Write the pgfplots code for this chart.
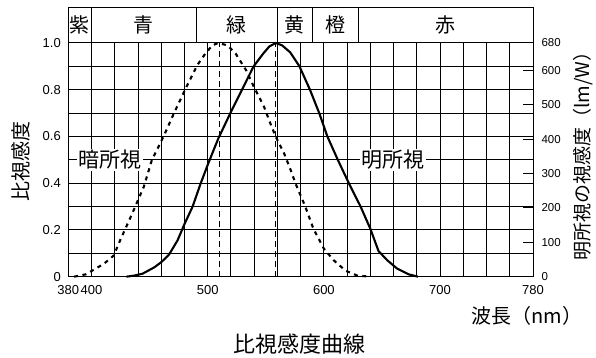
\documentclass[border=0pt]{standalone}
\usepackage{fontspec}
\setmainfont{Liberation Sans}
\newfontfamily\jp{Noto Sans CJK JP}
\usepackage{pgfplots}
\pgfplotsset{compat=1.18}
\begin{document}
\begin{tikzpicture}
\useasboundingbox (-68.3pt,-81.3pt) rectangle (527.7pt,276.7pt);
\begin{axis}[
  at={(0pt,0pt)}, anchor=south west,
  width=464.7pt, height=233.7pt, scale only axis,
  xmin=380, xmax=780, ymin=0, ymax=1,
  xtick={380,400,420,440,460,480,500,520,540,560,580,600,620,640,660,680,700,720,740,760,780},
  xticklabels={380,400,,,,,500,,,,,600,,,,,700,,,,780},
  ytick={0,0.1,0.2,0.3,0.4,0.5,0.6,0.7,0.8,0.9,1},
  yticklabels={0,,0.2,,0.4,,0.6,,0.8,,1.0},
  grid=major, major grid style={black, line width=1pt},
  axis line style={black, line width=1pt},
  major tick length=0pt,
  tick label style={font=\fontsize{13}{13}\selectfont},
  xticklabel style={yshift=-5pt},
  yticklabel style={xshift=-4pt},
  clip=false,
]
% photopic (solid)
\addplot[black, line width=2.1pt] coordinates {
(430,0) (437,0.005) (444,0.013) (454,0.04) (460,0.062) (466.5,0.093) (474,0.155)
(480,0.225) (487,0.30) (494,0.40) (500.5,0.485) (509,0.59) (519.5,0.70)
(529.5,0.80) (539.5,0.90) (548,0.956) (553,0.985) (558.5,1.0) (564,0.99)
(571,0.96) (579,0.90) (588,0.80) (596,0.70) (603,0.60) (612,0.50)
(621.5,0.40) (631.6,0.30) (640,0.205) (647,0.11) (654.6,0.07) (663,0.035)
(673,0.01) (681,0)
};
% scotopic (dashed)
\addplot[black, line width=2.1pt, dash pattern=on 4pt off 4.5pt] coordinates {
(385,0) (395,0.01) (402,0.03) (410.6,0.055) (419,0.09) (425,0.16) (435,0.27)
(445,0.385) (452,0.5) (462,0.6) (471,0.70) (481,0.805) (491,0.905) (498,0.955)
(504,0.99) (509,1.0) (517,0.99) (524,0.955) (533,0.884) (540,0.81) (548.5,0.727)
(554,0.655) (558.6,0.598) (565.8,0.527) (571.5,0.455) (575.5,0.4) (584,0.3)
(591,0.205) (600,0.12) (608.5,0.07) (618.6,0.026) (628.6,0.005) (640,0)
};
% peak lines
\addplot[black, line width=1pt, dash pattern=on 6pt off 4pt] coordinates {(510,0) (510,1)};
\addplot[black, line width=1pt, dash pattern=on 6pt off 4pt] coordinates {(558.5,0) (558.5,1)};
% colour band
\draw[line width=1pt] (axis cs:380,1) rectangle (axis cs:780,1.154);
\draw[line width=1pt] (axis cs:400,1) -- (axis cs:400,1.154);
\draw[line width=1pt] (axis cs:490,1) -- (axis cs:490,1.154);
\draw[line width=1pt] (axis cs:560,1) -- (axis cs:560,1.154);
\draw[line width=1pt] (axis cs:590,1) -- (axis cs:590,1.154);
\draw[line width=1pt] (axis cs:630,1) -- (axis cs:630,1.154);
\node[font=\jp\fontsize{20}{20}\selectfont, inner sep=0pt] at (axis cs:390,1.077) {紫};
\node[font=\jp\fontsize{20}{20}\selectfont, inner sep=0pt] at (axis cs:445,1.077) {青};
\node[font=\jp\fontsize{20}{20}\selectfont, inner sep=0pt] at (axis cs:525,1.077) {緑};
\node[font=\jp\fontsize{20}{20}\selectfont, inner sep=0pt] at (axis cs:575,1.077) {黄};
\node[font=\jp\fontsize{20}{20}\selectfont, inner sep=0pt] at (axis cs:610,1.077) {橙};
\node[font=\jp\fontsize{20}{20}\selectfont, inner sep=0pt] at (axis cs:705,1.077) {赤};
\node[fill=white, inner sep=1.5pt, font=\jp\fontsize{21}{21}\selectfont] at (axis cs:415.6,0.5) {暗所視};
\node[fill=white, inner sep=1.5pt, font=\jp\fontsize{21}{21}\selectfont] at (axis cs:659.5,0.5) {明所視};
\node[rotate=90, font=\jp\fontsize{20}{20}\selectfont] at (rel axis cs:-0.1018,0.491) {比視感度};
\node[rotate=90, font=\jp\fontsize{19}{19}\selectfont] at (rel axis cs:1.1076,0.536) {明所視の視感度（lm/W）};
\node[font=\jp\fontsize{20}{20}\selectfont] at (rel axis cs:0.9864,-0.168) {波長（nm）};
\node[font=\jp\fontsize{22}{22}\selectfont] at (rel axis cs:0.4986,-0.288) {比視感度曲線};
\end{axis}
\begin{axis}[
  at={(0pt,0pt)}, anchor=south west,
  width=464.7pt, height=233.7pt, scale only axis,
  xmin=380, xmax=780, ymin=0, ymax=680,
  axis x line=none, axis y line*=right,
  ytick={0,100,200,300,400,500,600,680},
  yticklabels={0,100,200,300,400,500,600,680},
  tick align=inside, major tick length=10pt,
  axis line style={black, line width=1pt},
  tick style={black, line width=1pt},
  yticklabel style={font=\fontsize{11.5}{11.5}\selectfont, xshift=5pt},
]
\addplot[draw=none] coordinates {(380,0) (780,680)};
\end{axis}
\end{tikzpicture}
\end{document}
